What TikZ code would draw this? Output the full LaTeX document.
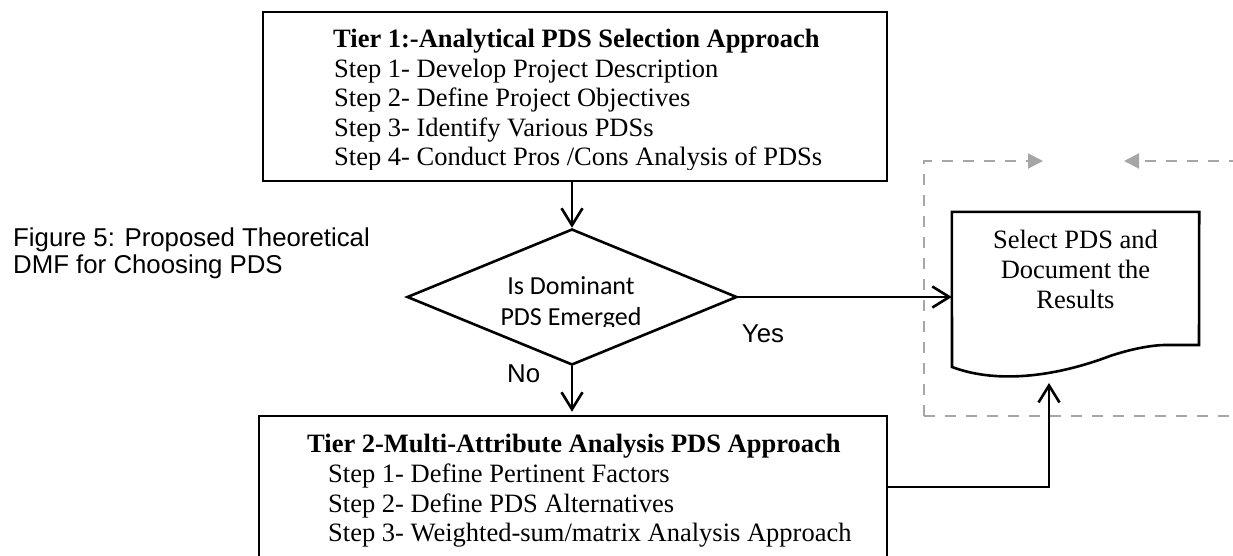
\documentclass[tikz,border=0pt]{standalone}
\usepackage{fontspec}
\setmainfont{Liberation Serif}
\newfontfamily\arialf{Liberation Sans}
\newfontfamily\calf{Carlito}
\usetikzlibrary{arrows.meta,shapes.geometric}
\definecolor{dgray}{RGB}{166,166,166}
\begin{document}
\begin{tikzpicture}[x=1pt,y=-1pt,
  box/.style={draw=black,line width=2.6pt,rectangle,inner sep=0pt},
  ln/.style={anchor=base west,inner sep=0pt,font=\fontsize{26.5}{30}\selectfont},
  lnb/.style={anchor=base west,inner sep=0pt,font=\bfseries\fontsize{26.5}{30}\selectfont},
  ctr/.style={anchor=base,inner sep=0pt,font=\fontsize{26.5}{30}\selectfont},
  sans/.style={anchor=base west,inner sep=0pt,font=\arialf\fontsize{25.8}{30}\selectfont},
  dtxt/.style={anchor=base,inner sep=0pt,font=\calf\fontsize{26}{30}\selectfont},
  conn/.style={line width=2.6pt,-{Straight Barb[length=17pt,width=21pt]}},
  plain/.style={line width=2.6pt,line join=miter},
  gdash/.style={draw=dgray,line width=2pt,dash pattern=on 11pt off 10pt},
  garr/.style={gdash,-{Triangle[length=15pt,width=15pt]}}
]
\useasboundingbox (0,0) rectangle (1233,556);
\clip (0,0) rectangle (1233,556);

% gray dashed frame (behind)
\coordinate (g1) at (924,416);
\coordinate (g2) at (924,161);
\coordinate (g3) at (1043,161);
\coordinate (g4) at (1240,416);
\coordinate (g5) at (1240,161);
\coordinate (g6) at (1124,161);
\draw[garr] (g1) -- (g2) -- (g3);
\draw[gdash] (g1) -- (g4);
\draw[garr] (g5) -- (g6);

% caption
\node[sans] (c1) at (13,246) {Figure 5: Proposed Theoretical};
\node[sans] (c2) at (13,273) {DMF for Choosing PDS};

% Tier 1
\node[box,minimum width=624pt,minimum height=169pt] (t1) at (575,96.5) {};
\begin{scope}
\clip (265,14) rectangle (885,170);
\node[lnb] (t1h) at (333,48) {Tier 1:-Analytical PDS Selection Approach};
\node[ln] (t1a) at (334,77.5) {Step 1- Develop Project Description};
\node[ln] (t1b) at (334,107) {Step 2- Define Project Objectives};
\node[ln] (t1c) at (334,136.5) {Step 3- Identify Various PDSs};
\node[ln] (t1d) at (334,166) {Step 4- Conduct Pros /Cons Analysis of PDSs};
\end{scope}

% decision
\node[diamond,draw=black,line width=2.6pt,minimum width=330pt,minimum height=136pt,inner sep=0pt] (dia) at (572,297) {};
\begin{scope}
\clip (400,260) rectangle (740,326.5);
\node[dtxt] (d1) at (571,294) {Is Dominant};
\node[dtxt] (d2) at (571,325) {PDS Emerged};
\end{scope}
\node[sans,anchor=base] (yes) at (763,342) {Yes};
\node[sans] (no) at (507,382) {No};

% document
\node[minimum width=247pt,minimum height=155pt,inner sep=0pt] (doc) at (1075.5,289.5) {};
\draw[plain] (doc.north west) -- (doc.north east) -- (1199,345) -- (1165,345)
  .. controls (1160,345) and (1140,346) .. (1110,356)
  .. controls (1060,375) and (1000,385) .. (952,367) -- cycle;
\node[ctr] (dt1) at (1075.5,248) {Select PDS and};
\node[ctr] (dt2) at (1075.5,278) {Document the};
\node[ctr] (dt3) at (1075.5,308) {Results};
\coordinate (docb) at (1049,383);

% Tier 2
\node[box,minimum width=628pt,minimum height=142pt] (t2) at (573,487) {};
\node[lnb] (t2h) at (307,452) {Tier 2-Multi-Attribute Analysis PDS Approach};
\node[ln] (t2a) at (328,482) {Step 1- Define Pertinent Factors};
\node[ln] (t2b) at (328,512) {Step 2- Define PDS Alternatives};
\node[ln] (t2c) at (328,541) {Step 3- Weighted-sum/matrix Analysis Approach};

% connectors
\draw[conn] (t1.south -| dia.north) -- (dia.north);
\draw[conn,shorten >=3pt] (dia.south) -- (dia.south |- t2.north);
\draw[conn] (dia.east) -- (dia.east -| doc.west);
\draw[conn] (t2.east) -| (docb);
\end{tikzpicture}
\end{document}
